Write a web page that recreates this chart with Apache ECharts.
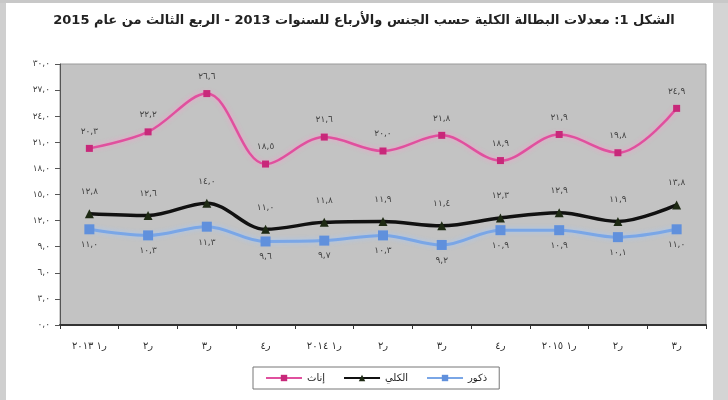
<!DOCTYPE html>
<html>
<head>
<meta charset="utf-8">
<script src="https://cdn.jsdelivr.net/npm/echarts@6/dist/echarts.min.js"></script>
<style>
html,body{margin:0;padding:0;background:#fff;}
#c{width:728px;height:400px;}
</style>
</head>
<body>
<div id="c"></div>
<script>
var categories = ["ر١ ٢٠١٣","ر٢","ر٣","ر٤","ر١ ٢٠١٤","ر٢","ر٣","ر٤","ر١ ٢٠١٥","ر٢","ر٣"];
var female = [20.3, 22.2, 26.6, 18.5, 21.6, 20.0, 21.8, 18.9, 21.9, 19.8, 24.9];
var total  = [12.8, 12.6, 14.0, 11.0, 11.8, 11.9, 11.4, 12.3, 12.9, 11.9, 13.8];
var male   = [11.0, 10.3, 11.3, 9.6, 9.7, 10.3, 9.2, 10.9, 10.9, 10.1, 11.0];
var seriesNames = ["إناث", "الكلي", "ذكور"];
var titleText = "الشكل 1: معدلات البطالة الكلية حسب الجنس والأرباع للسنوات 2013 - الربع الثالث من عام 2015";

var digits = "٠١٢٣٤٥٦٧٨٩";
function toAr(v){
  return v.toFixed(1).replace('.', ',').replace(/[0-9]/g, function(d){return digits[+d];});
}
var FONT = "DejaVu Sans";
var chart = echarts.init(document.getElementById('c'), null, {renderer:'canvas'});
var labelStyle = {show:true, fontFamily:FONT, fontSize:9, color:'#444', formatter:function(p){return toAr(p.value);}};
chart.setOption({
  animation:false,
  textStyle:{fontFamily:FONT},
  graphic:[
    {type:'rect', shape:{x:0,y:0,width:6,height:400}, style:{fill:'#cfcfcf'}, silent:true},
    {type:'rect', shape:{x:713,y:0,width:15,height:400}, style:{fill:'#d4d4d4'}, silent:true},
    {type:'rect', shape:{x:0,y:0,width:728,height:3}, style:{fill:'#c8c8c8'}, silent:true}
  ],
  title:{text:titleText, left:'center', top:9, textStyle:{fontFamily:FONT, fontSize:13, fontWeight:'bold', color:'#222'}},
  grid:{left:60, right:22, top:64, bottom:75, show:true, backgroundColor:'#c3c3c3', borderColor:'#9a9a9a', borderWidth:1},
  legend:{
    data:seriesNames, bottom:11, left:253, itemWidth:36, itemHeight:8, itemGap:18,
    padding:[6,12,6,12], borderColor:'#777', borderWidth:1, backgroundColor:'#fff',
    textStyle:{fontFamily:FONT, fontSize:10, color:'#222'}
  },
  xAxis:{
    type:'category', data:categories, boundaryGap:true,
    axisLine:{lineStyle:{color:'#333', width:2}},
    axisTick:{show:true, alignWithLabel:false, length:4, lineStyle:{color:'#333'}},
    axisLabel:{fontFamily:FONT, fontSize:10, color:'#333', margin:16, interval:0}
  },
  yAxis:{
    type:'value', min:0, max:30, interval:3,
    axisLine:{show:true, lineStyle:{color:'#555'}},
    axisTick:{show:true, length:5, lineStyle:{color:'#555'}},
    splitLine:{show:false},
    axisLabel:{fontFamily:FONT, fontSize:9, color:'#444', margin:10, formatter:function(v){return toAr(v);}}
  },
  series:[
    {name:seriesNames[0], type:'line', data:female, smooth:0.35, symbol:'rect', symbolSize:7,
     itemStyle:{color:'#c8287a'},
     lineStyle:{color:'#e0509e', width:2.5, shadowColor:'rgba(255,150,205,0.9)', shadowBlur:5},
     label:Object.assign({position:'top', distance:9}, labelStyle)},
    {name:seriesNames[1], type:'line', data:total, smooth:0.35, symbol:'triangle', symbolSize:9,
     itemStyle:{color:'#1e2a14'},
     lineStyle:{color:'#111', width:3.5},
     label:Object.assign({position:'top', distance:13}, labelStyle)},
    {name:seriesNames[2], type:'line', data:male, smooth:0.35, symbol:'rect', symbolSize:10,
     itemStyle:{color:'#6090dc'},
     lineStyle:{color:'#7aa6e6', width:3, shadowColor:'rgba(160,200,255,0.9)', shadowBlur:5},
     label:Object.assign({position:'bottom', distance:6}, labelStyle)}
  ]
});
</script>
</body>
</html>
